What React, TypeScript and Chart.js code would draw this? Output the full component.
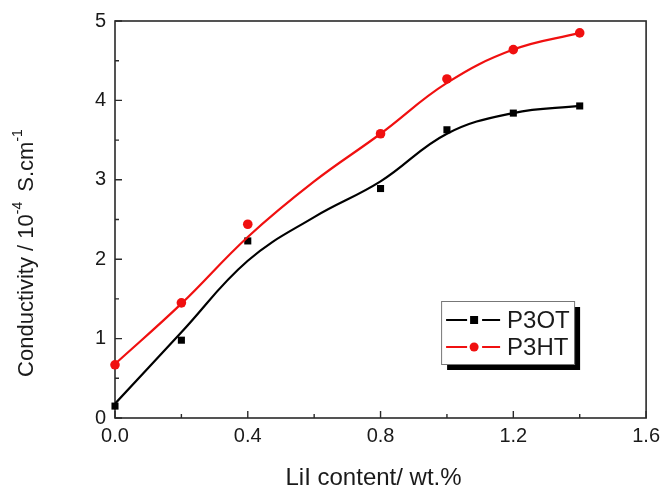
import React, { useEffect, useRef } from 'react';
import { Chart, registerables } from 'chart.js';
Chart.register(...registerables);

const FONT = '"Liberation Sans", Arial, Helvetica, sans-serif';

// LiI content (wt.%) of the measured samples
const X_POINTS = [0, 0.2, 0.4, 0.8, 1.0, 1.2, 1.4];
// Measured conductivity (10^-4 S/cm)
const P3OT = [0.15, 0.98, 2.23, 2.89, 3.63, 3.84, 3.93];
const P3HT = [0.67, 1.45, 2.44, 3.58, 4.27, 4.64, 4.85];
// Smoothed fit curves
const CURVE_X = [0, 0.2, 0.4, 0.6, 0.8, 1.0, 1.2, 1.4];
const P3OT_FIT = [0.18, 1.08, 1.98, 2.53, 2.98, 3.58, 3.84, 3.93];
const P3HT_FIT = [0.68, 1.44, 2.28, 2.98, 3.58, 4.22, 4.64, 4.85];
// Axis ticks
const X_TICKS = [0, 0.4, 0.8, 1.2, 1.6];
const X_MINOR = [0.2, 0.6, 1.0, 1.4];
const Y_TICKS = [0, 1, 2, 3, 4, 5];
const Y_MINOR = [0.5, 1.5, 2.5, 3.5, 4.5];

const SERIES_NAMES = ['P3OT', 'P3HT'];
const BLACK = '#000000';
const RED = 'rgb(240,16,16)';

const pairs = (xs: number[], ys: number[]) => xs.map((x, i) => ({ x, y: ys[i] }));

const decorPlugin = {
  id: 'decor',
  beforeDatasetsDraw(chart: any) {
    const { ctx, chartArea: ca } = chart;
    ctx.save();
    ctx.strokeStyle = '#2a2a2a';
    ctx.lineWidth = 1.6;
    ctx.strokeRect(ca.left, ca.top, ca.right - ca.left, ca.bottom - ca.top);
    const xs = chart.scales.x;
    const ys = chart.scales.y;
    ctx.lineWidth = 1.4;
    ctx.beginPath();
    X_TICKS.forEach((v) => {
      const px = xs.getPixelForValue(v);
      ctx.moveTo(px, ca.bottom);
      ctx.lineTo(px, ca.bottom - 7);
    });
    X_MINOR.forEach((v) => {
      const px = xs.getPixelForValue(v);
      ctx.moveTo(px, ca.bottom);
      ctx.lineTo(px, ca.bottom - 4);
    });
    Y_TICKS.forEach((v) => {
      const py = ys.getPixelForValue(v);
      ctx.moveTo(ca.left, py);
      ctx.lineTo(ca.left + 7, py);
    });
    Y_MINOR.forEach((v) => {
      const py = ys.getPixelForValue(v);
      ctx.moveTo(ca.left, py);
      ctx.lineTo(ca.left + 4, py);
    });
    ctx.stroke();
    ctx.restore();
  },
  afterDraw(chart: any) {
    const { ctx, chartArea: ca } = chart;
    ctx.save();
    ctx.fillStyle = '#1a1a1a';
    // X title
    ctx.font = `24px ${FONT}`;
    ctx.textAlign = 'center';
    ctx.textBaseline = 'middle';
    ctx.fillText('LiI content/ wt.%', (ca.left + ca.right) / 2 - 7, 478);

    // Y title with superscripts
    const parts: [string, boolean][] = [
      ['Conductivity / 10', false],
      ['-4', true],
      [' S.cm', false],
      ['-1', true],
    ];
    const big = `22px ${FONT}`;
    const small = `14px ${FONT}`;
    let total = 0;
    const widths = parts.map(([t, sup]) => {
      ctx.font = sup ? small : big;
      const w = ctx.measureText(t).width + (sup && t === '-4' ? 4 : 0);
      total += w;
      return w;
    });
    ctx.translate(27, 253);
    ctx.rotate(-Math.PI / 2);
    ctx.textAlign = 'left';
    let cx = -total / 2;
    parts.forEach(([t, sup], i) => {
      ctx.font = sup ? small : big;
      ctx.fillText(t, cx, sup ? -9 : 0);
      cx += widths[i];
    });
    ctx.restore();

    // Legend
    ctx.save();
    const bx = ca.right - 205;
    const by = ca.top + 280;
    const bw = 133;
    const bh = 63;
    ctx.fillStyle = '#000';
    ctx.fillRect(bx + 6, by + 6, bw, bh);
    ctx.fillStyle = '#fff';
    ctx.fillRect(bx, by, bw, bh);
    ctx.strokeStyle = '#777';
    ctx.lineWidth = 1;
    ctx.strokeRect(bx + 0.5, by + 0.5, bw, bh);
    const colors = [BLACK, RED];
    SERIES_NAMES.forEach((name, i) => {
      const y = by + 19 + i * 27;
      const c = colors[i];
      ctx.strokeStyle = c;
      ctx.lineWidth = 2;
      ctx.beginPath();
      ctx.moveTo(bx + 5, y);
      ctx.lineTo(bx + 26, y);
      ctx.moveTo(bx + 41, y);
      ctx.lineTo(bx + 59, y);
      ctx.stroke();
      ctx.fillStyle = c;
      if (i === 0) {
        ctx.fillRect(bx + 29, y - 4, 8, 8);
      } else {
        ctx.beginPath();
        ctx.arc(bx + 33, y, 4.5, 0, Math.PI * 2);
        ctx.fill();
      }
      ctx.fillStyle = '#1a1a1a';
      ctx.font = `24px ${FONT}`;
      ctx.textAlign = 'left';
      ctx.textBaseline = 'middle';
      ctx.fillText(name, bx + 66, y + 1);
    });
    ctx.restore();
  },
};

export default function App() {
  const ref = useRef<HTMLCanvasElement>(null);
  useEffect(() => {
    document.body.style.margin = '0';
    const chart = new Chart(ref.current as HTMLCanvasElement, {
      type: 'scatter',
      data: {
        datasets: [
          {
            label: 'P3OT fit',
            data: pairs(CURVE_X, P3OT_FIT),
            showLine: true,
            borderColor: BLACK,
            borderWidth: 2.2,
            pointRadius: 0,
            tension: 0.4,
          },
          {
            label: 'P3HT fit',
            data: pairs(CURVE_X, P3HT_FIT),
            showLine: true,
            borderColor: RED,
            borderWidth: 2.2,
            pointRadius: 0,
            tension: 0.4,
          },
          {
            label: SERIES_NAMES[0],
            data: pairs(X_POINTS, P3OT),
            pointStyle: 'rect',
            pointRadius: 5,
            backgroundColor: BLACK,
            borderColor: BLACK,
            borderWidth: 0,
            clip: false,
          },
          {
            label: SERIES_NAMES[1],
            data: pairs(X_POINTS, P3HT),
            pointStyle: 'circle',
            pointRadius: 4.8,
            backgroundColor: RED,
            borderColor: RED,
            borderWidth: 0,
            clip: false,
          },
        ],
      } as any,
      options: {
        responsive: false,
        animation: false,
        devicePixelRatio: 1,
        layout: { padding: { top: 20, right: 15, left: 0, bottom: 0 } },
        plugins: { legend: { display: false }, tooltip: { enabled: false } },
        scales: {
          x: {
            type: 'linear',
            min: 0,
            max: 1.6,
            afterBuildTicks: (s: any) => {
              s.ticks = X_TICKS.map((v) => ({ value: v }));
            },
            ticks: {
              callback: (v: any) => Number(v).toFixed(1),
              font: { family: FONT, size: 20 },
              color: '#1a1a1a',
              padding: 6,
              maxRotation: 0,
              autoSkip: false,
            },
            grid: { display: false, drawTicks: false },
            border: { display: false },
            afterFit: (s: any) => {
              s.height = 71;
            },
          },
          y: {
            type: 'linear',
            min: 0,
            max: 5,
            afterBuildTicks: (s: any) => {
              s.ticks = Y_TICKS.map((v) => ({ value: v }));
            },
            ticks: {
              callback: (v: any) => String(v),
              font: { family: FONT, size: 20 },
              color: '#1a1a1a',
              padding: 9,
              autoSkip: false,
            },
            grid: { display: false, drawTicks: false },
            border: { display: false },
            afterFit: (s: any) => {
              s.width = 115;
            },
          },
        },
      } as any,
      plugins: [decorPlugin],
    });
    return () => chart.destroy();
  }, []);
  return (
    <div style={{ width: 666, height: 489 }}>
      <canvas ref={ref} width={666} height={489} style={{ display: 'block' }} />
    </div>
  );
}
